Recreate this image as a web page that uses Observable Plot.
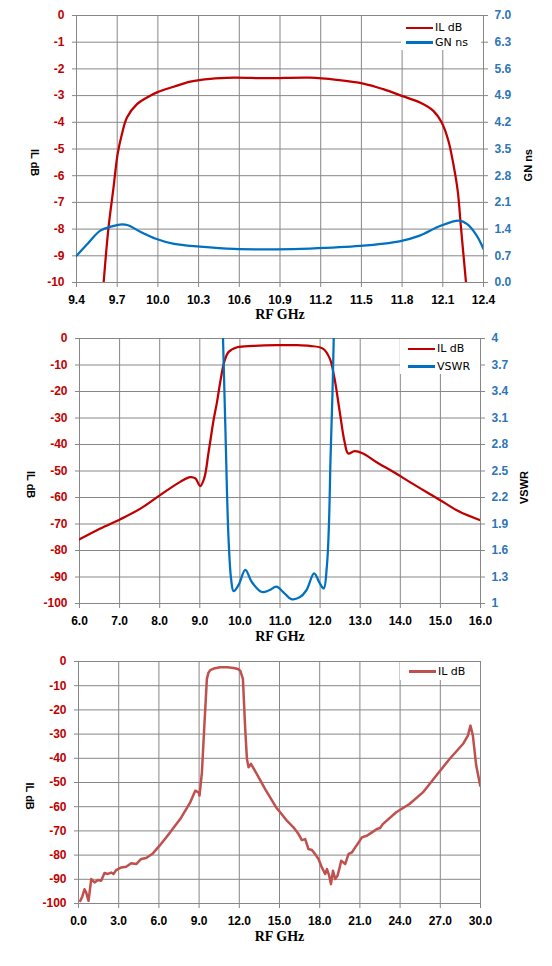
<!DOCTYPE html>
<html>
<head>
<meta charset="utf-8">
<script src="https://cdn.jsdelivr.net/npm/d3@7"></script>
<script src="https://cdn.jsdelivr.net/npm/@observablehq/plot@0.6"></script>
<style>
  body { margin: 0; background: #fff; }
  .chart { position: relative; width: 552px; overflow: hidden; }
  .chart svg { display: block; }
  .legend { position: absolute; background: #fff; font-family: "DejaVu Sans", Verdana, sans-serif; font-size: 11px; color: #000; }
  .entry { position: absolute; white-space: nowrap; }
  .swatch { position: absolute; height: 2.5px; }
</style>
</head>
<body>
<div id="c1" class="chart" style="height:325px"></div>
<div id="c2" class="chart" style="height:320px"></div>
<div id="c3" class="chart" style="height:321px"></div>
<script>
// ---------- Chart 1 data ----------
const c1ILFreq = [9.60, 9.636, 9.673, 9.703, 9.735, 9.772, 9.846, 9.92, 9.993, 10.116, 10.239, 10.387, 10.559, 10.805, 11.12, 11.317, 11.514, 11.661, 11.809, 11.932, 12.03, 12.092, 12.141, 12.178, 12.21, 12.234, 12.271];
const c1ILdB   = [-10, -7.94, -6.44, -5.19, -4.44, -3.82, -3.32, -3.07, -2.88, -2.67, -2.48, -2.37, -2.33, -2.35, -2.33, -2.41, -2.55, -2.76, -3.03, -3.26, -3.57, -4.01, -4.69, -5.57, -6.57, -7.94, -10];
const c1GNFreq = [9.4, 9.48, 9.575, 9.66, 9.72, 9.78, 9.87, 9.99, 10.12, 10.31, 10.56, 10.87, 11.12, 11.49, 11.78, 11.93, 12.08, 12.22, 12.28, 12.35, 12.4];
const c1GNns   = [0.70, 1.01, 1.36, 1.47, 1.52, 1.50, 1.33, 1.14, 1.01, 0.94, 0.88, 0.87, 0.89, 0.96, 1.08, 1.23, 1.48, 1.62, 1.53, 1.23, 0.88];
const c1XTicks = [9.4, 9.7, 10.0, 10.3, 10.6, 10.9, 11.2, 11.5, 11.8, 12.1, 12.4];
const c1YTicks = [-10, -9, -8, -7, -6, -5, -4, -3, -2, -1, 0];
const c1Y2Ticks = [0, 0.7, 1.4, 2.1, 2.8, 3.5, 4.2, 4.9, 5.6, 6.3, 7.0];

// ---------- Chart 2 data ----------
const c2ILFreq = [6.0, 6.52, 7.02, 7.52, 8.01, 8.51, 8.76, 8.89, 9.01, 9.11, 9.22, 9.35, 9.43, 9.51, 9.61, 9.72, 9.93, 10.34, 10.91, 11.41, 11.74, 12.07, 12.24, 12.36, 12.49, 12.61, 12.70, 12.86, 13.07, 13.40, 13.82, 14.23, 14.65, 15.07, 15.48, 16.0];
const c2ILdB   = [-75.8, -71.7, -68.2, -64.2, -59.1, -54.1, -52.3, -52.8, -55.7, -52.8, -42.8, -30.2, -23.9, -16.4, -8.8, -5.05, -3.3, -2.8, -2.5, -2.5, -2.8, -3.8, -7.5, -15.1, -27.7, -39.0, -43.4, -42.5, -43.4, -46.6, -50.3, -54.1, -57.9, -61.7, -65.4, -68.6];
const c2VSFreq = [9.55, 9.579, 9.636, 9.678, 9.72, 9.78, 9.843, 9.968, 10.135, 10.30, 10.55, 10.73, 10.91, 11.08, 11.28, 11.49, 11.66, 11.85, 11.99, 12.09, 12.17, 12.22, 12.26, 12.31, 12.34, 12.37];
const c2VSWR   = [4.6, 4.0, 3.02, 2.26, 1.70, 1.28, 1.14, 1.21, 1.38, 1.24, 1.13, 1.15, 1.19, 1.13, 1.05, 1.07, 1.15, 1.34, 1.23, 1.17, 1.43, 1.89, 2.64, 3.40, 4.0, 4.6];
const c2XTicks = [6, 7, 8, 9, 10, 11, 12, 13, 14, 15, 16];
const c2YTicks = [-100, -90, -80, -70, -60, -50, -40, -30, -20, -10, 0];
const c2Y2Ticks = [1, 1.3, 1.6, 1.9, 2.2, 2.5, 2.8, 3.1, 3.4, 3.7, 4];

// ---------- Chart 3 data ----------
const c3Freq = [0.13, 0.28, 0.45, 0.57, 0.75, 0.95, 1.2, 1.45, 1.69, 1.94, 2.19, 2.44, 2.61, 2.81, 3.19, 3.56, 3.93, 4.31, 4.68, 5.05, 5.55, 6.05, 6.54, 6.84, 7.59, 8.34, 8.71, 8.96, 9.03, 9.21, 9.38, 9.58, 9.7, 9.83, 10.1, 10.57, 11.1, 11.57, 11.9, 12.07, 12.27, 12.44, 12.57, 12.69, 12.87, 13.31, 13.93, 14.75, 15.05, 15.55, 16.04, 16.42, 16.67, 16.92, 17.16, 17.42, 17.66, 17.91, 18.16, 18.41, 18.54, 18.71, 18.84, 18.99, 19.16, 19.33, 19.48, 19.60, 19.9, 20.15, 20.4, 20.65, 20.9, 21.15, 21.52, 21.9, 22.27, 22.51, 22.71, 23.71, 24.7, 25.7, 26.69, 27.69, 28.69, 29.06, 29.25, 29.43, 29.68, 29.98];
const c3dB   = [-98.9, -97.2, -94.1, -95.4, -98.9, -89.9, -91.3, -90.3, -90.6, -87.4, -87.8, -87.2, -87.8, -86.2, -85.1, -84.8, -83.4, -83.7, -81.6, -81.2, -79.3, -76.1, -72.7, -70.6, -65.1, -58.2, -53.4, -54.1, -55.4, -45.8, -27.8, -7.2, -4.6, -3.6, -2.9, -2.4, -2.4, -2.7, -3.1, -3.8, -7.2, -27.8, -40.3, -43.7, -42.3, -46.5, -52.7, -60.3, -62.3, -65.8, -68.5, -71.3, -73.8, -73.4, -77.5, -77.9, -79.6, -81.6, -85.1, -87.8, -85.8, -88.5, -92.0, -86.5, -89.9, -88.5, -85.4, -82.3, -83.7, -79.6, -78.9, -76.8, -74.8, -72.7, -72.0, -70.6, -69.2, -68.8, -67.2, -62.3, -58.9, -54.1, -47.2, -40.3, -34.1, -30.6, -26.5, -30.6, -43.0, -51.3];
const c3XTicks = [0, 3, 6, 9, 12, 15, 18, 21, 24, 27, 30];
const c3YTicks = [-100, -90, -80, -70, -60, -50, -40, -30, -20, -10, 0];

const RED = "#C00000", BLUE = "#0070C0", RED3 = "#C0504D", GRID = "#878787", BLUE_TXT = "#2E75B6";

function zip(xs, ys) { return xs.map((f, i) => ({f, v: ys[i]})); }

function buildChart(o) {
  const marks = [
    Plot.gridX(o.xTicks, {stroke: GRID, strokeOpacity: 1, strokeWidth: 1}),
    Plot.gridY(o.yTicks, {stroke: GRID, strokeOpacity: 1, strokeWidth: 1}),
    Plot.frame({stroke: GRID, strokeWidth: 1}),
    Plot.axisX(o.xTicks, {anchor: "bottom", tickSize: 5, tickPadding: 8, stroke: GRID, fill: "#000",
      tickFormat: d => d.toFixed(1), fontWeight: "bold", fontSize: 12, label: null}),
    Plot.axisY(o.yTicks, {anchor: "left", tickSize: 4, tickPadding: 8, stroke: GRID, fill: o.yColor,
      tickFormat: d => String(d), fontWeight: "bold", fontSize: 12, label: null}),
    Plot.text([o.yLabel], {text: d => d, frameAnchor: "left", dx: o.yLabelDx, rotate: 90,
      fontWeight: "bold", fontSize: 11, fill: "#000"}),
    Plot.text(["RF GHz"], {text: d => d, frameAnchor: "bottom", dy: o.xLabelDy,
      fontFamily: "Liberation Serif, Times New Roman, serif", fontWeight: "bold", fontSize: 14, fill: "#000"})
  ];
  if (o.y2) {
    marks.push(Plot.axisY(o.y2.ticks.map(o.y2.toLeft), {anchor: "right", tickSize: 4, tickPadding: 7,
      stroke: GRID, fill: BLUE_TXT, tickFormat: o.y2.format, fontWeight: "bold", fontSize: 12, label: null}));
    marks.push(Plot.text([o.y2.label], {text: d => d, frameAnchor: "right", dx: o.y2.labelDx, rotate: -90,
      fontWeight: "bold", fontSize: 11, fill: "#000"}));
  }
  for (const s of o.series) {
    marks.push(Plot.line(s.data, {x: "f", y: "v", stroke: s.color, strokeWidth: s.width || 2.25,
      curve: s.curve || "catmull-rom", clip: true}));
  }
  const svg = Plot.plot({
    width: 552, height: o.height,
    marginTop: o.m[0], marginRight: o.m[1], marginBottom: o.m[2], marginLeft: o.m[3],
    x: {domain: o.xDomain, axis: null},
    y: {domain: o.yDomain, axis: null},
    style: {fontFamily: "Liberation Sans, Arial, sans-serif", fontSize: "12px", background: "#fff", overflow: "visible"},
    marks
  });
  const el = document.getElementById(o.el);
  el.appendChild(svg);
  // legend
  const lg = document.createElement("div");
  lg.className = "legend";
  Object.assign(lg.style, {left: o.legend.box[0] + "px", top: o.legend.box[1] + "px",
    width: o.legend.box[2] + "px", height: o.legend.box[3] + "px"});
  o.series.forEach((s, i) => {
    const cy = o.legend.firstY + i * o.legend.step - o.legend.box[1];
    const sw = document.createElement("div");
    sw.className = "swatch";
    Object.assign(sw.style, {left: (o.legend.lineX0 - o.legend.box[0]) + "px", width: (o.legend.lineX1 - o.legend.lineX0) + "px",
      top: (cy - 1.25) + "px", background: s.color});
    const tx = document.createElement("div");
    tx.className = "entry";
    tx.textContent = s.name;
    Object.assign(tx.style, {left: (o.legend.textX - o.legend.box[0]) + "px", top: (cy - 7) + "px", lineHeight: "14px"});
    lg.appendChild(sw); lg.appendChild(tx);
  });
  el.appendChild(lg);
}

const c1Left = v => -10 + v * 10 / 7;
buildChart({
  el: "c1", height: 325, m: [15, 69, 43, 76],
  xDomain: [9.4, 12.4], yDomain: [-10, 0],
  xTicks: c1XTicks, yTicks: c1YTicks, yColor: RED,
  yLabel: "IL dB", yLabelDx: -42, xLabelDy: 36,
  y2: {ticks: c1Y2Ticks, toLeft: c1Left, format: d => ((d + 10) * 0.7).toFixed(1), label: "GN ns", labelDx: 45},
  series: [
    {name: "IL dB", color: RED, data: zip(c1ILFreq, c1ILdB)},
    {name: "GN ns", color: BLUE, data: zip(c1GNFreq, c1GNns.map(c1Left))}
  ],
  legend: {box: [401, 16, 80, 34], firstY: 28, step: 14.7, lineX0: 406, lineX1: 433, textX: 435}
});

const c2Left = v => -100 + (v - 1) * 100 / 3;
buildChart({
  el: "c2", height: 320, m: [13, 72, 42, 79],
  xDomain: [6, 16], yDomain: [-100, 0],
  xTicks: c2XTicks, yTicks: c2YTicks, yColor: RED,
  yLabel: "IL dB", yLabelDx: -49, xLabelDy: 37,
  y2: {ticks: c2Y2Ticks, toLeft: c2Left, format: d => String(+(1 + (d + 100) * 3 / 100).toFixed(1)), label: "VSWR", labelDx: 44},
  series: [
    {name: "IL dB", color: RED, data: zip(c2ILFreq, c2ILdB)},
    {name: "VSWR", color: BLUE, data: zip(c2VSFreq, c2VSWR.map(c2Left))}
  ],
  legend: {box: [400, 14, 80, 35], firstY: 24, step: 17.7, lineX0: 408, lineX1: 435, textX: 437}
});

buildChart({
  el: "c3", height: 321, m: [16, 72, 63, 78],
  xDomain: [0, 30], yDomain: [-100, 0],
  xTicks: c3XTicks, yTicks: c3YTicks, yColor: RED,
  yLabel: "IL dB", yLabelDx: -49, xLabelDy: 37,
  series: [
    {name: "IL dB", color: RED3, data: zip(c3Freq, c3dB), curve: "linear", width: 2.5}
  ],
  legend: {box: [400, 17, 80, 18], firstY: 26.7, step: 17, lineX0: 409, lineX1: 436, textX: 438}
});
</script>
</body>
</html>
